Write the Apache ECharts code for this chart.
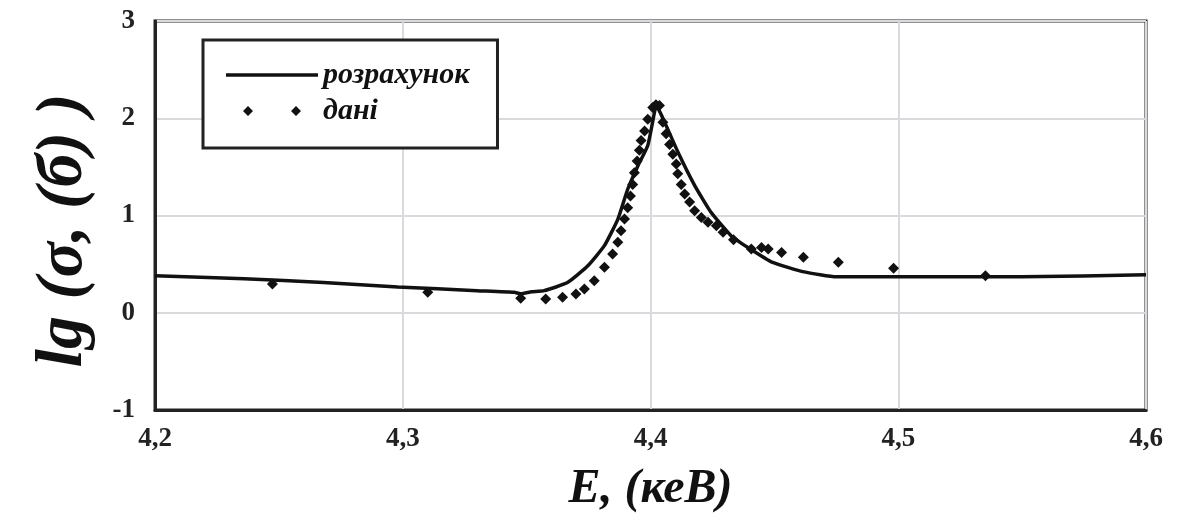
<!DOCTYPE html>
<html>
<head>
<meta charset="utf-8">
<script src="https://cdn.jsdelivr.net/npm/echarts@6/dist/echarts.min.js"></script>
<style>html,body{margin:0;padding:0;background:#fff;}#c{width:1187px;height:524px;}</style>
</head>
<body>
<div id="c"></div>
<script>
// Tick labels
var xTickValues = [4.2, 4.3, 4.4, 4.5, 4.6];
var xTickLabels = ['4,2', '4,3', '4,4', '4,5', '4,6'];
var yTickValues = [-1, 0, 1, 2, 3];
var yTickLabels = ['-1', '0', '1', '2', '3'];

// Series names
var seriesNames = ['розрахунок', 'дані'];

// Calculated curve (E, lg σ)
var calcE = [4.2, 4.236, 4.268, 4.298, 4.330, 4.345, 4.3476, 4.352, 4.3571, 4.3665, 4.3746, 4.3814, 4.3868, 4.3908, 4.3949, 4.3989, 4.4016, 4.4023, 4.4057, 4.4111, 4.4178, 4.4245, 4.4326, 4.440, 4.449, 4.462, 4.475, 4.55, 4.6];
var calcLg = [0.38, 0.35, 0.31, 0.265, 0.227, 0.21, 0.195, 0.215, 0.227, 0.31, 0.48, 0.69, 0.96, 1.27, 1.51, 1.72, 2.06, 2.13, 1.96, 1.65, 1.31, 1.03, 0.79, 0.66, 0.52, 0.42, 0.37, 0.37, 0.39];

// Measured data (E, lg σ)
var dataE = [4.2474, 4.3101, 4.3476, 4.3577, 4.3645, 4.3699, 4.3733, 4.3773, 4.3814, 4.3847, 4.3868, 4.3881, 4.3895, 4.3908, 4.3919, 4.3928, 4.3935, 4.3946, 4.3955, 4.3962, 4.3976, 4.3989, 4.4009, 4.4022, 4.4036, 4.405, 4.4063, 4.4077, 4.409, 4.4104, 4.411, 4.4124, 4.4138, 4.4158, 4.4178, 4.4205, 4.4232, 4.4266, 4.4293, 4.4335, 4.4407, 4.4448, 4.4475, 4.4529, 4.4617, 4.4758, 4.4981, 4.5352];
var dataLg = [0.296, 0.21, 0.15, 0.142, 0.159, 0.193, 0.245, 0.33, 0.467, 0.604, 0.724, 0.844, 0.964, 1.08, 1.2, 1.32, 1.44, 1.56, 1.67, 1.77, 1.87, 1.99, 2.11, 2.14, 2.13, 1.96, 1.84, 1.73, 1.63, 1.53, 1.43, 1.32, 1.22, 1.14, 1.05, 0.98, 0.93, 0.895, 0.827, 0.75, 0.656, 0.67, 0.656, 0.62, 0.57, 0.52, 0.457, 0.38];

function pairs(xs, ys) { return xs.map(function (x, i) { return [x, ys[i]]; }); }
function lookup(vals, labels, v) {
  for (var i = 0; i < vals.length; i++) { if (Math.abs(vals[i] - v) < 1e-6) return labels[i]; }
  return '';
}

var serif = '"Liberation Serif", "Times New Roman", serif';
var chart = echarts.init(document.getElementById('c'), null, { renderer: 'canvas' });
chart.setOption({
  animation: false,
  backgroundColor: '#ffffff',
  grid: { left: 155, right: 41, top: 21, bottom: 114, show: true, borderColor: '#222', borderWidth: 3, backgroundColor: 'transparent' },
  legend: {
    left: 203, top: 40, orient: 'vertical',
    backgroundColor: '#fff', borderColor: '#222', borderWidth: 3,
    padding: [20, 28, 22, 23], itemGap: 6,
    itemWidth: 92, itemHeight: 10,
    textStyle: { fontFamily: serif, fontStyle: 'italic', fontWeight: 'bold', fontSize: 30, color: '#111', lineHeight: 30 },
    data: [
      { name: seriesNames[0], icon: 'path://M0,0L92,0L92,3.5L0,3.5Z' },
      { name: seriesNames[1], icon: 'path://M0,5L5,0L10,5L5,10Z M48,5L53,0L58,5L53,10Z' }
    ]
  },
  xAxis: {
    type: 'value', min: 4.2, max: 4.6, interval: 0.1,
    name: 'E, (кеВ)', nameLocation: 'middle', nameGap: 56,
    nameTextStyle: { fontFamily: serif, fontStyle: 'italic', fontWeight: 'bold', fontSize: 48, color: '#111' },
    axisLine: { show: true, onZero: false, lineStyle: { color: '#222', width: 3 } },
    axisTick: { show: false },
    axisLabel: { margin: 16, fontFamily: serif, fontWeight: 'bold', fontSize: 27, color: '#222',
      formatter: function (v) { return lookup(xTickValues, xTickLabels, v); } },
    splitLine: { show: true, lineStyle: { color: '#dcd8e0', width: 2 } }
  },
  yAxis: {
    type: 'value', min: -1, max: 3, interval: 1,
    name: 'lg (σ, (б) )', nameLocation: 'middle', nameGap: 58,
    nameTextStyle: { fontFamily: serif, fontStyle: 'italic', fontWeight: 'bold', fontSize: 66, color: '#111', padding: [0, 30, 0, 0] },
    axisLine: { show: true, onZero: false, lineStyle: { color: '#222', width: 3 } },
    axisTick: { show: false },
    axisLabel: { margin: 20, fontFamily: serif, fontWeight: 'bold', fontSize: 27, color: '#222',
      formatter: function (v) { return lookup(yTickValues, yTickLabels, v); } },
    splitLine: { show: true, lineStyle: { color: '#dcd8e0', width: 2 } }
  },
  series: [
    {
      name: seriesNames[0], type: 'line', data: pairs(calcE, calcLg),
      symbol: 'none', smooth: 0.15,
      lineStyle: { color: '#111', width: 3.5 }, itemStyle: { color: '#111' }, z: 3
    },
    {
      name: seriesNames[1], type: 'scatter', data: pairs(dataE, dataLg),
      symbol: 'diamond', symbolSize: 11,
      itemStyle: { color: '#111', opacity: 1 }, z: 4
    }
  ]
});
</script>
</body>
</html>
